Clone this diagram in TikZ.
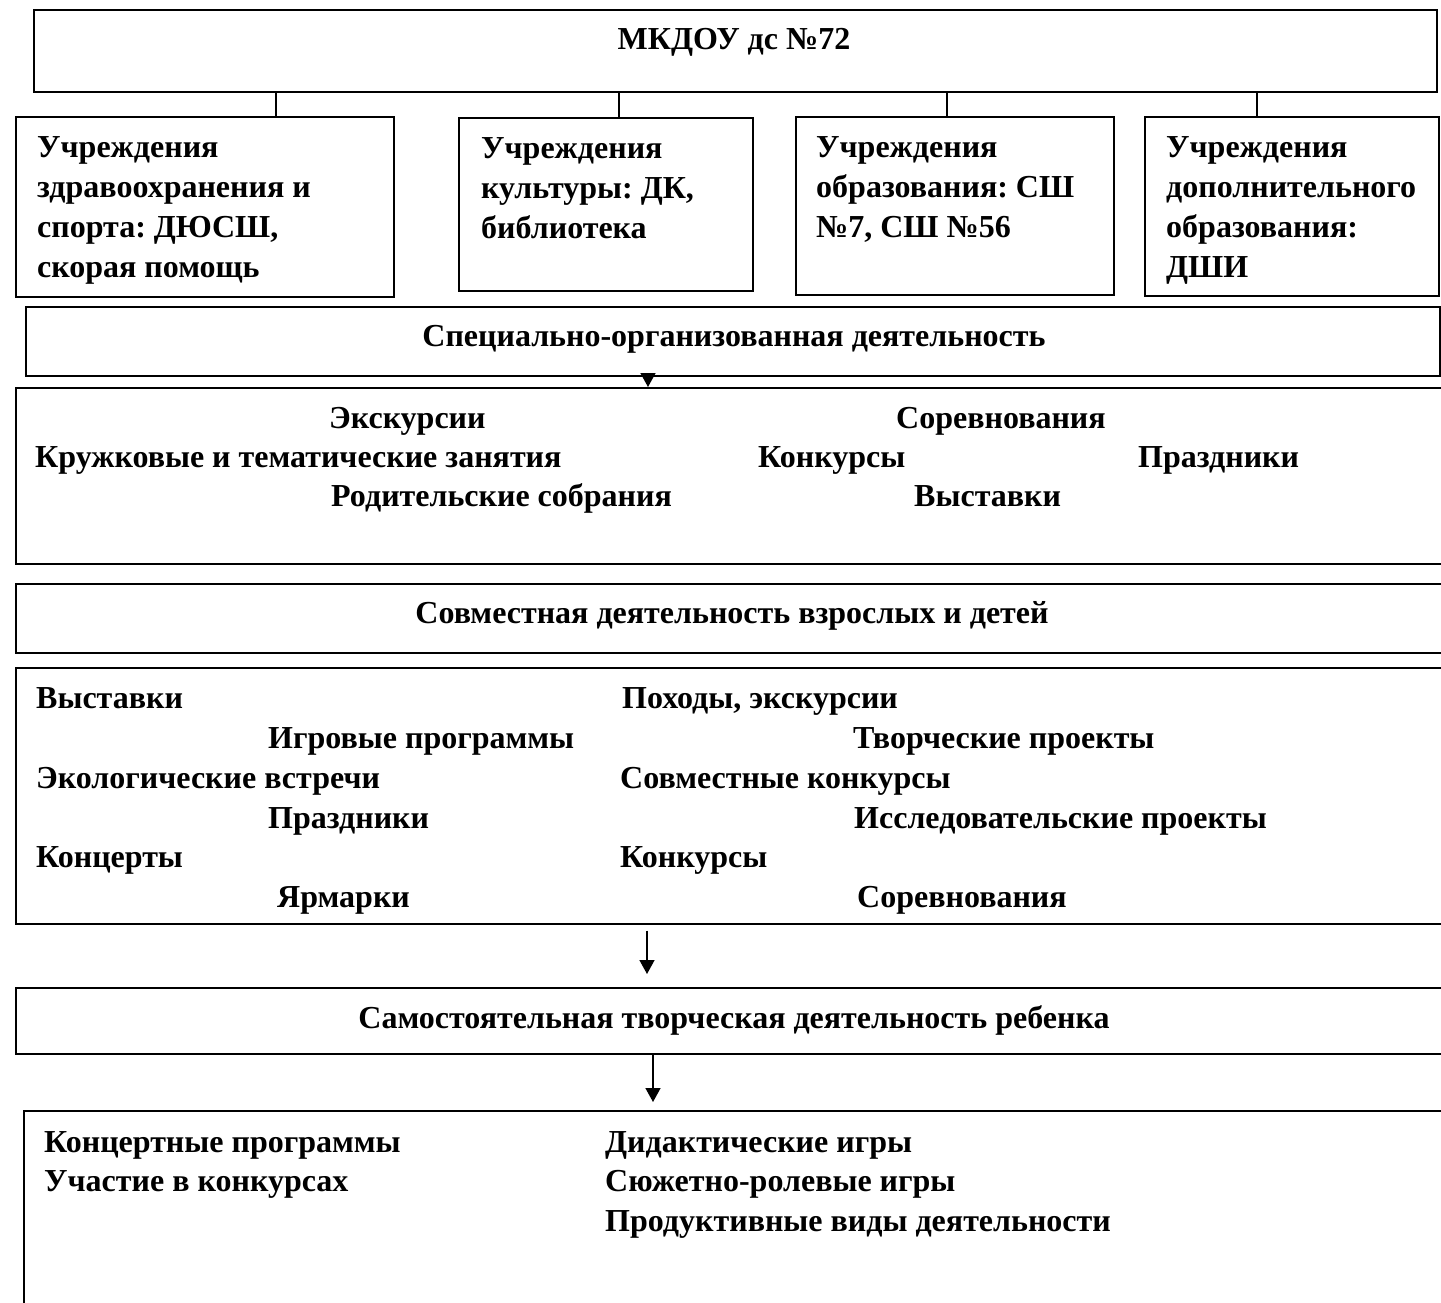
\documentclass[tikz,border=0pt]{standalone}
\usepackage{fontspec}
\setmainfont{Liberation Serif}
\usetikzlibrary{arrows.meta}
\frenchspacing

\tikzset{
	box/.style={draw, line width=1.5pt, anchor=north west, inner sep=0pt},
	lbl/.style={font=\fontsize{32}{40}\selectfont\bfseries, inner sep=0pt, anchor=base west},
	mid/.style={lbl, anchor=base},
	para/.style={lbl, anchor=north west, align=left},
	link/.style={line width=1.5pt},
	arr/.style={line width=1.5pt, -{Triangle[width=15pt,length=14pt]}},
}

\begin{document}
\begin{tikzpicture}[x=1pt, y=-1pt]
			%%%%% START %%%%%
			\useasboundingbox (0,0) rectangle (1441,1302);
			\clip (0,0) rectangle (1441,1302);
			
			\node[box, minimum width=1403pt, minimum height=82pt] (top) at (33,9) {};
			\node[mid] (topt) at (734,49) {МКДОУ дс №72};
			
			\node[box, minimum width=378pt, minimum height=180pt] (hz) at (15,116) {};
			\node[box, minimum width=294pt, minimum height=173pt] (cult) at (458,117) {};
			\node[box, minimum width=318pt, minimum height=178pt] (edu) at (795,116) {};
			\node[box, minimum width=294pt, minimum height=179pt] (dop) at (1144,116) {};
			
			\node[para] (hzt) at (37,136) {Учреждения\\здравоохранения и\\спорта: ДЮСШ,\\скорая помощь};
			\node[para] (cultt) at (481,137) {Учреждения\\культуры: ДК,\\библиотека};
			\node[para] (edut) at (816,136) {Учреждения\\образования: СШ\\№7, СШ №56};
			\node[para] (dopt) at (1166,136) {Учреждения\\дополнительного\\образования:\\ДШИ};
			
			\coordinate (c1) at (276,0);
			\coordinate (c2) at (619,0);
			\coordinate (c3) at (947,0);
			\coordinate (c4) at (1257,0);
			\draw[link] (c1 |- top.south) -- (c1 |- hz.north);
			\draw[link] (c2 |- top.south) -- (c2 |- cult.north);
			\draw[link] (c3 |- top.south) -- (c3 |- edu.north);
			\draw[link] (c4 |- top.south) -- (c4 |- dop.north);
			
			\node[box, minimum width=1414pt, minimum height=69pt] (spec) at (25,306) {};
			\node[mid] (spect) at (734,346) {Специально-организованная деятельность};
			
			\node[box, minimum width=1460pt, minimum height=176pt] (events) at (15,387) {};
			\node[lbl] (exc) at (329,428) {Экскурсии};
			\node[lbl] (comp) at (896,428) {Соревнования};
			\node[lbl] (circ) at (35,467) {Кружковые и тематические занятия};
			\node[lbl] (cont) at (758,467) {Конкурсы};
			\node[lbl] (fest) at (1138,467) {Праздники};
			\node[lbl] (par) at (331,506) {Родительские собрания};
			\node[lbl] (exh) at (914,506) {Выставки};
			
			\coordinate (a1) at (648,0);
			\draw[arr] (a1 |- spec.south) -- (a1 |- events.north);
			
			\node[box, minimum width=1460pt, minimum height=69pt] (joint) at (15,583) {};
			\node[mid] (jointt) at (732,623) {Совместная деятельность взрослых и детей};
			
			\node[box, minimum width=1460pt, minimum height=256pt] (acts) at (15,667) {};
			\node[lbl] (k1) at (36,708) {Выставки};
			\node[lbl] (k2) at (622,708) {Походы, экскурсии};
			\node[lbl] (k3) at (268,748) {Игровые программы};
			\node[lbl] (k4) at (853,748) {Творческие проекты};
			\node[lbl] (k5) at (36,788) {Экологические встречи};
			\node[lbl] (k6) at (620,788) {Совместные конкурсы};
			\node[lbl] (k7) at (268,828) {Праздники};
			\node[lbl] (k8) at (854,828) {Исследовательские проекты};
			\node[lbl] (k9) at (36,867) {Концерты};
			\node[lbl] (k10) at (620,867) {Конкурсы};
			\node[lbl] (k11) at (277,907) {Ярмарки};
			\node[lbl] (k12) at (857,907) {Соревнования};
			
			\node[box, minimum width=1460pt, minimum height=66pt] (self) at (15,987) {};
			\node[mid] (selft) at (734,1028) {Самостоятельная творческая деятельность ребенка};
			
			\coordinate (a2) at (647,0);
			\draw[arr, shorten <=6pt, shorten >=13pt] (a2 |- acts.south) -- (a2 |- self.north);
			
			\node[box, minimum width=1460pt, minimum height=220pt] (own) at (23,1110) {};
			\node[lbl] (o1) at (44,1152) {Концертные программы};
			\node[lbl] (o2) at (44,1191) {Участие в конкурсах};
			\node[lbl] (o3) at (605,1152) {Дидактические игры};
			\node[lbl] (o4) at (605,1191) {Сюжетно-ролевые игры};
			\node[lbl] (o5) at (605,1231) {Продуктивные виды деятельности};
			
			\coordinate (a3) at (653,0);
			\draw[arr, shorten >=8pt] (a3 |- self.south) -- (a3 |- own.north);
			%%%%% END %%%%%
\end{tikzpicture}
\end{document}
